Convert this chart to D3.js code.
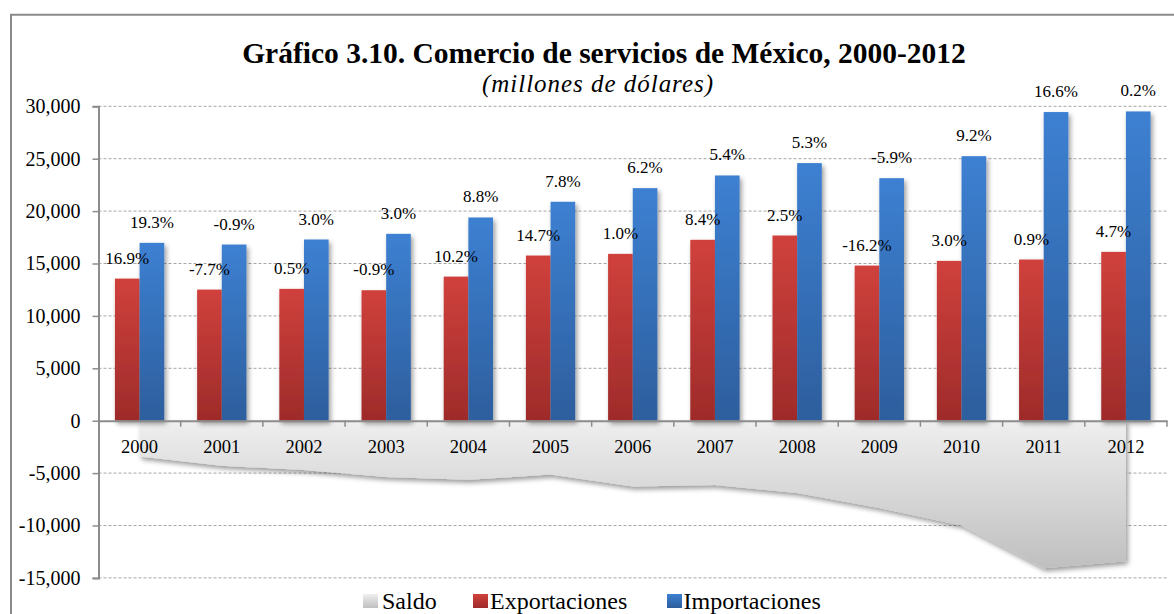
<!DOCTYPE html>
<html>
<head>
<meta charset="utf-8">
<script src="https://cdn.jsdelivr.net/npm/d3@7"></script>
<style>
  html, body { margin: 0; padding: 0; background: #fff; }
  svg { display: block; }
  text { font-family: "Liberation Serif", "Times New Roman", serif; fill: #000; }
</style>
</head>
<body>
<svg id="chart" width="1174" height="614"></svg>
<script>
// ---- Data (millones de dólares) ----
const years = ["2000","2001","2002","2003","2004","2005","2006","2007","2008","2009","2010","2011","2012"];
const exportaciones = [13560, 12510, 12580, 12450, 13750, 15760, 15920, 17260, 17670, 14800, 15250, 15380, 16110];
const importaciones = [16970, 16810, 17290, 17830, 19390, 20890, 22190, 23400, 24580, 23140, 25240, 29450, 29510];
const saldo = [-3410, -4300, -4710, -5380, -5640, -5130, -6270, -6140, -6910, -8340, -9990, -14070, -13400];
const expPct = [16.9, -7.7, 0.5, -0.9, 10.2, 14.7, 1.0, 8.4, 2.5, -16.2, 3.0, 0.9, 4.7];
const impPct = [19.3, -0.9, 3.0, 3.0, 8.8, 7.8, 6.2, 5.4, 5.3, -5.9, 9.2, 16.6, 0.2];
const yTicks = [-15000, -10000, -5000, 0, 5000, 10000, 15000, 20000, 25000, 30000];
const legendLabels = ["Saldo", "Exportaciones", "Importaciones"];
const titleText = "Gráfico 3.10. Comercio de servicios de México, 2000-2012";
const subtitleText = "(millones de dólares)";

(function () {
// ---- Layout ----
const svg = d3.select("#chart");
const pLeft = 98.5, pRight = 1167, pTop = 106.3, pBottom = 577.9;

const x = d3.scaleBand().domain(years).range([pLeft, pRight]).paddingInner(0).paddingOuter(0);
const bw = x.bandwidth();
const xs = d3.scaleBand().domain(["exp", "imp"]).range([bw * 0.2, bw * 0.8]).padding(0);
const y = d3.scaleLinear().domain([-15000, 30000]).range([pBottom, pTop]);

const loc = d3.formatLocale({ decimal: ".", thousands: ",", grouping: [3], currency: ["$", ""], minus: "-" });
const fmt = loc.format(",");
const pctFmt = v => loc.format(".1f")(v) + "%";

// ---- defs ----
const defs = svg.append("defs");
function vGrad(id, stops) {
  const g = defs.append("linearGradient").attr("id", id).attr("x1", 0).attr("y1", 0).attr("x2", 0).attr("y2", 1);
  stops.forEach(s => g.append("stop").attr("offset", s[0]).attr("stop-color", s[1]));
}
vGrad("gRed", [[0, "#d0413c"], [1, "#9e2b2a"]]);
vGrad("gBlue", [[0, "#3d80d2"], [1, "#2d5e9d"]]);
vGrad("gGray", [[0, "#efefef"], [1, "#bfbfbf"]]);
const sh = defs.append("filter").attr("id", "shadow").attr("x", "-20%").attr("y", "-20%").attr("width", "150%").attr("height", "150%");
sh.append("feDropShadow").attr("dx", 2).attr("dy", 3).attr("stdDeviation", 2.5).attr("flood-color", "#000").attr("flood-opacity", 0.4);

// ---- frame ----
svg.append("path").attr("d", "M11,614 L11,14.7 L1174,14.7").attr("fill", "none").attr("stroke", "#8a8a8a").attr("stroke-width", 2);

// ---- title ----
svg.append("text").attr("x", 604).attr("y", 63).attr("text-anchor", "middle")
  .attr("font-size", 29.5).attr("font-weight", "bold").text(titleText);
svg.append("text").attr("x", 597.5).attr("y", 92).attr("text-anchor", "middle")
  .attr("font-size", 25).attr("font-style", "italic")
  .attr("textLength", 231).attr("lengthAdjust", "spacing").text(subtitleText);

// ---- gridlines ----
svg.append("g").selectAll("line").data(yTicks.filter(t => t !== 0)).join("line")
  .attr("x1", pLeft).attr("x2", pRight)
  .attr("y1", d => y(d)).attr("y2", d => y(d))
  .attr("stroke", "#a6a6a6").attr("stroke-width", 1).attr("stroke-dasharray", "3,2");

// ---- saldo area ----
const area = d3.area()
  .x((d, i) => x(years[i]) + bw / 2)
  .y0(y(0))
  .y1(d => y(d));
svg.append("path").datum(saldo).attr("d", area)
  .attr("fill", "url(#gGray)").attr("filter", "url(#shadow)");

// ---- bars ----
const gBars = svg.append("g").attr("filter", "url(#shadow)");
const barData = [];
years.forEach((yr, i) => {
  barData.push({ yr, key: "exp", v: exportaciones[i], p: expPct[i] });
  barData.push({ yr, key: "imp", v: importaciones[i], p: impPct[i] });
});
gBars.selectAll("rect").data(barData).join("rect")
  .attr("x", d => x(d.yr) + xs(d.key))
  .attr("width", xs.bandwidth())
  .attr("y", d => y(d.v))
  .attr("height", d => y(0) - y(d.v))
  .attr("fill", d => d.key === "exp" ? "url(#gRed)" : "url(#gBlue)");

// ---- axes ----
const yAxis = d3.axisLeft(y).tickValues(yTicks).tickFormat(fmt).tickSize(6).tickPadding(12);
const gy = svg.append("g").attr("transform", `translate(${pLeft},0)`).call(yAxis);
gy.select(".domain").attr("stroke", "#8c8c8c").attr("stroke-width", 2);
gy.selectAll(".tick line").attr("stroke", "#8c8c8c").attr("stroke-width", 1.5);
gy.selectAll(".tick text").attr("font-family", "Liberation Serif, serif").attr("font-size", 20).attr("fill", "#000");

const xAxis = d3.axisBottom(x).tickSize(0).tickPadding(0);
const gx = svg.append("g").attr("transform", `translate(0,${y(0)})`).call(xAxis);
gx.select(".domain").attr("stroke", "#8c8c8c").attr("stroke-width", 2);
gx.selectAll(".tick text").attr("font-family", "Liberation Serif, serif").attr("font-size", 18.5)
  .attr("fill", "#000").attr("dy", null).attr("y", 32);
// category boundary tick marks
svg.append("g").selectAll("line").data(years.slice(1).concat(["end"])).join("line")
  .attr("x1", d => d === "end" ? pRight : x(d)).attr("x2", d => d === "end" ? pRight : x(d))
  .attr("y1", y(0)).attr("y2", y(0) + 6)
  .attr("stroke", "#8c8c8c").attr("stroke-width", 1.5);

// ---- percent labels ----
svg.append("g").selectAll("text").data(barData).join("text")
  .attr("x", d => x(d.yr) + xs(d.key) + xs.bandwidth() / 2)
  .attr("y", d => y(d.v) - 15)
  .attr("text-anchor", "middle").attr("font-size", 17)
  .text(d => pctFmt(d.p));

// ---- legend ----
const legendItems = [
  { label: legendLabels[0], fill: "url(#gGray)", sx: 363, tx: 382 },
  { label: legendLabels[1], fill: "url(#gRed)", sx: 473, tx: 490 },
  { label: legendLabels[2], fill: "url(#gBlue)", sx: 667, tx: 683.5 }
];
const lg = svg.append("g");
lg.selectAll("rect").data(legendItems).join("rect")
  .attr("x", d => d.sx).attr("y", 594).attr("width", 15).attr("height", 14).attr("fill", d => d.fill);
lg.selectAll("text").data(legendItems).join("text")
  .attr("x", d => d.tx).attr("y", 609).attr("font-size", 24).text(d => d.label);
})();
</script>
</body>
</html>
